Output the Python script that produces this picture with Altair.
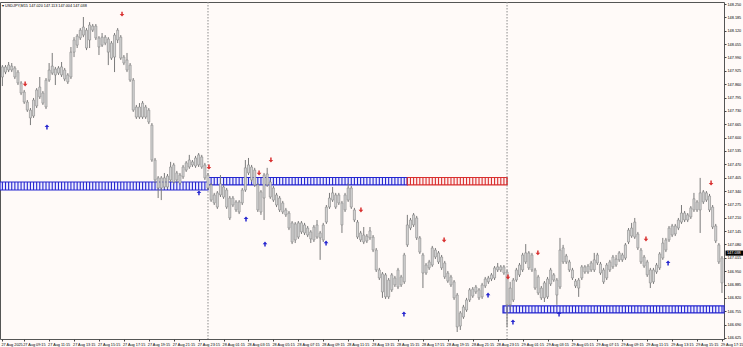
import math
import altair as alt
import pandas as pd

# ---------------- data (USDJPY, M15) ----------------
opens = [
147.895, 147.919, 147.929, 147.948, 147.939, 147.919, 147.866, 147.822, 147.773, 147.734,
147.705, 147.754, 147.798, 147.817, 147.749, 147.880, 147.914, 147.934, 147.914, 147.944,
147.929, 147.905, 147.895, 148.016, 148.050, 148.085, 148.099, 148.123, 148.075, 148.123,
148.143, 148.085, 148.050, 148.060, 148.080, 148.060, 147.992, 148.075, 148.089, 147.992,
147.978, 147.953, 147.880, 147.749, 147.700, 147.700, 147.749, 147.734, 147.661, 147.491,
147.404, 147.355, 147.404, 147.360, 147.394, 147.467, 147.394, 147.418, 147.409, 147.442,
147.457, 147.482, 147.462, 147.467, 147.506, 147.467, 147.418, 147.370, 147.321, 147.331,
147.321, 147.360, 147.345, 147.306, 147.272, 147.287, 147.287, 147.282, 147.345, 147.428,
147.457, 147.442, 147.370, 147.336, 147.306, 147.370, 147.384, 147.355, 147.321, 147.306,
147.282, 147.248, 147.233, 147.185, 147.102, 147.116, 147.141, 147.175, 147.160, 147.141,
147.102, 147.116, 147.136, 147.102, 147.189, 147.262, 147.296, 147.321, 147.282, 147.282,
147.248, 147.296, 147.355, 147.248, 147.189, 147.136, 147.126, 147.097, 147.112, 147.116,
147.053, 146.956, 146.937, 146.932, 146.825, 146.859, 146.917, 146.873, 146.922, 146.898,
147.078, 147.160, 147.175, 147.209, 147.112, 147.029, 146.980, 146.966, 146.980, 147.053,
147.039, 147.019, 146.990, 146.941, 146.922, 146.898, 146.834, 146.683, 146.727, 146.761,
146.810, 146.829, 146.849, 146.859, 146.825, 146.878, 146.898, 146.912, 146.917, 146.956,
146.971, 146.971, 146.946, 146.786, 146.810, 146.907, 146.932, 146.956, 146.995, 147.039,
146.956, 146.956, 146.922, 146.868, 146.820, 146.912, 146.888, 146.932, 146.907, 146.873,
146.995, 147.024, 146.995, 146.956, 146.902, 146.868, 146.917, 146.946, 146.975, 146.956,
146.956, 146.990, 146.985, 146.956, 146.917, 146.956, 146.971, 147.009, 147.005, 147.029,
147.014, 147.092, 147.121, 147.116, 147.131, 147.053, 147.019, 146.995, 146.956, 146.898,
146.946, 146.966, 147.014, 147.053, 147.102, 147.126, 147.170, 147.160, 147.189, 147.233,
147.199, 147.214, 147.248, 147.287, 147.248, 147.287, 147.331, 147.316, 147.262, 147.170,
147.078, 147.014]

highs = [
147.953, 147.953, 147.968, 147.963, 147.948, 147.929, 147.875, 147.832, 147.783, 147.744,
147.793, 147.841, 147.895, 147.827, 147.890, 147.963, 148.012, 147.944, 147.948, 147.968,
147.939, 147.914, 148.041, 148.089, 148.104, 148.133, 148.187, 148.133, 148.162, 148.153,
148.153, 148.094, 148.109, 148.099, 148.089, 148.070, 148.109, 148.133, 148.099, 148.002,
148.012, 147.963, 147.890, 147.759, 147.768, 147.778, 147.759, 147.744, 147.671, 147.501,
147.413, 147.413, 147.428, 147.423, 147.482, 147.477, 147.438, 147.428, 147.467, 147.486,
147.516, 147.491, 147.511, 147.525, 147.516, 147.477, 147.428, 147.379, 147.331, 147.340,
147.418, 147.370, 147.355, 147.316, 147.316, 147.296, 147.296, 147.355, 147.491, 147.501,
147.467, 147.453, 147.379, 147.345, 147.428, 147.453, 147.394, 147.365, 147.331, 147.316,
147.292, 147.258, 147.243, 147.194, 147.189, 147.194, 147.194, 147.185, 147.170, 147.150,
147.175, 147.199, 147.146, 147.185, 147.272, 147.331, 147.360, 147.331, 147.331, 147.292,
147.331, 147.379, 147.365, 147.258, 147.199, 147.146, 147.165, 147.131, 147.165, 147.126,
147.063, 146.966, 146.946, 146.941, 146.917, 146.941, 146.927, 146.966, 146.932, 147.039,
147.224, 147.209, 147.233, 147.219, 147.121, 147.039, 146.990, 147.005, 147.073, 147.063,
147.048, 147.029, 147.000, 146.951, 146.932, 146.907, 146.844, 146.756, 146.786, 146.820,
146.868, 146.873, 146.883, 146.868, 146.893, 146.922, 146.927, 146.941, 146.975, 146.990,
146.980, 146.980, 146.956, 146.898, 146.917, 146.966, 146.990, 147.039, 147.082, 147.048,
147.039, 146.966, 146.932, 146.878, 146.902, 146.922, 146.966, 146.941, 146.917, 147.112,
147.078, 147.034, 147.005, 146.966, 146.912, 146.917, 146.980, 146.980, 146.985, 147.000,
147.039, 147.039, 146.995, 146.966, 146.990, 147.005, 147.029, 147.029, 147.048, 147.039,
147.087, 147.160, 147.185, 147.209, 147.141, 147.063, 147.029, 147.005, 146.966, 146.966,
146.990, 147.043, 147.112, 147.112, 147.170, 147.180, 147.180, 147.209, 147.272, 147.243,
147.233, 147.267, 147.331, 147.296, 147.404, 147.345, 147.340, 147.326, 147.272, 147.180,
147.087, 147.024]

lows = [
147.851, 147.909, 147.919, 147.919, 147.885, 147.856, 147.807, 147.764, 147.725, 147.661,
147.696, 147.744, 147.788, 147.759, 147.739, 147.871, 147.905, 147.856, 147.905, 147.895,
147.875, 147.861, 147.885, 147.992, 148.036, 148.075, 148.089, 148.026, 148.036, 148.114,
148.075, 148.002, 148.041, 148.050, 147.953, 147.978, 147.919, 148.060, 147.978, 147.953,
147.919, 147.871, 147.725, 147.691, 147.691, 147.691, 147.691, 147.666, 147.482, 147.379,
147.306, 147.296, 147.350, 147.350, 147.384, 147.375, 147.384, 147.370, 147.399, 147.433,
147.448, 147.457, 147.453, 147.457, 147.448, 147.394, 147.345, 147.287, 147.272, 147.253,
147.311, 147.302, 147.253, 147.199, 147.262, 147.238, 147.228, 147.272, 147.336, 147.418,
147.384, 147.360, 147.238, 147.224, 147.199, 147.360, 147.302, 147.287, 147.262, 147.238,
147.228, 147.214, 147.150, 147.082, 147.087, 147.107, 147.131, 147.126, 147.116, 147.087,
147.092, 147.107, 147.005, 147.092, 147.180, 147.253, 147.287, 147.253, 147.272, 147.136,
147.238, 147.287, 147.253, 147.189, 147.107, 147.092, 147.082, 147.087, 147.102, 147.043,
146.946, 146.907, 146.820, 146.815, 146.815, 146.849, 146.873, 146.863, 146.873, 146.888,
147.068, 147.150, 147.165, 147.102, 147.034, 146.868, 146.932, 146.956, 146.971, 147.009,
146.985, 146.956, 146.912, 146.893, 146.873, 146.810, 146.654, 146.664, 146.718, 146.752,
146.800, 146.820, 146.839, 146.810, 146.815, 146.868, 146.888, 146.902, 146.907, 146.946,
146.946, 146.932, 146.679, 146.761, 146.800, 146.898, 146.922, 146.946, 146.985, 146.956,
146.946, 146.859, 146.834, 146.810, 146.800, 146.815, 146.878, 146.898, 146.786, 146.863,
146.985, 146.985, 146.946, 146.907, 146.868, 146.825, 146.907, 146.937, 146.937, 146.946,
146.946, 146.980, 146.932, 146.888, 146.907, 146.946, 146.961, 146.971, 146.995, 146.995,
147.005, 147.082, 147.112, 147.107, 147.053, 146.985, 146.966, 146.922, 146.868, 146.888,
146.937, 146.956, 147.005, 147.043, 147.092, 147.116, 147.121, 147.150, 147.180, 147.189,
147.189, 147.204, 147.238, 147.238, 147.136, 147.277, 147.287, 147.238, 147.155, 147.087,
146.985, 146.844]

closes = [
147.944, 147.944, 147.953, 147.929, 147.895, 147.866, 147.817, 147.773, 147.734, 147.696,
147.783, 147.832, 147.846, 147.768, 147.880, 147.929, 147.948, 147.905, 147.939, 147.905,
147.885, 147.871, 148.016, 148.075, 148.094, 148.123, 148.138, 148.036, 148.148, 148.143,
148.085, 148.041, 148.089, 148.089, 148.016, 147.987, 148.099, 148.123, 147.987, 147.963,
147.929, 147.880, 147.734, 147.700, 147.749, 147.768, 147.700, 147.676, 147.491, 147.394,
147.355, 147.404, 147.360, 147.413, 147.457, 147.384, 147.428, 147.379, 147.457, 147.477,
147.491, 147.467, 147.501, 147.516, 147.457, 147.404, 147.355, 147.296, 147.282, 147.262,
147.375, 147.311, 147.262, 147.209, 147.306, 147.248, 147.238, 147.345, 147.453, 147.467,
147.394, 147.370, 147.248, 147.238, 147.418, 147.423, 147.311, 147.296, 147.272, 147.248,
147.238, 147.224, 147.160, 147.092, 147.180, 147.185, 147.185, 147.136, 147.126, 147.107,
147.165, 147.175, 147.112, 147.175, 147.262, 147.306, 147.331, 147.262, 147.321, 147.175,
147.321, 147.355, 147.262, 147.199, 147.116, 147.102, 147.092, 147.121, 147.146, 147.053,
146.956, 146.917, 146.849, 146.825, 146.907, 146.932, 146.883, 146.956, 146.883, 147.029,
147.175, 147.199, 147.224, 147.112, 147.043, 146.941, 146.941, 146.995, 147.063, 147.019,
146.995, 146.966, 146.922, 146.902, 146.883, 146.820, 146.679, 146.747, 146.776, 146.810,
146.859, 146.863, 146.873, 146.820, 146.883, 146.912, 146.917, 146.932, 146.966, 146.971,
146.956, 146.941, 146.786, 146.868, 146.907, 146.956, 146.980, 147.029, 147.039, 146.966,
147.029, 146.868, 146.844, 146.820, 146.893, 146.825, 146.956, 146.907, 146.834, 147.053,
147.063, 146.995, 146.956, 146.917, 146.878, 146.907, 146.971, 146.971, 146.946, 146.990,
147.005, 147.029, 146.941, 146.898, 146.980, 146.995, 147.019, 146.980, 147.039, 147.005,
147.078, 147.150, 147.160, 147.189, 147.063, 146.995, 146.975, 146.932, 146.893, 146.956,
146.980, 147.034, 147.087, 147.102, 147.160, 147.170, 147.131, 147.199, 147.233, 147.199,
147.224, 147.258, 147.302, 147.248, 147.331, 147.336, 147.296, 147.248, 147.165, 147.097,
146.995, 146.893]

# x-axis labels (bar number -> text)
label_bars = [0, 7, 15, 23, 31, 39, 47, 55, 63, 71, 79, 87, 95, 103, 111, 119,
              127, 135, 143, 151, 159, 167, 175, 183, 191, 199, 207, 215, 223, 231]
label_texts = ["27 Aug 2025", "27 Aug 09:15", "27 Aug 11:15", "27 Aug 13:15",
               "27 Aug 15:15", "27 Aug 17:15", "27 Aug 19:15", "27 Aug 21:15",
               "27 Aug 23:15", "28 Aug 01:15", "28 Aug 03:15", "28 Aug 05:15",
               "28 Aug 07:15", "28 Aug 09:15", "28 Aug 11:15", "28 Aug 13:15",
               "28 Aug 15:15", "28 Aug 17:15", "28 Aug 19:15", "28 Aug 21:15",
               "28 Aug 23:15", "29 Aug 01:15", "29 Aug 03:15", "29 Aug 05:15",
               "29 Aug 07:15", "29 Aug 09:15", "29 Aug 11:15", "29 Aug 13:15",
               "29 Aug 15:15", "29 Aug 17:15"]

price_ticks = [146.625, 146.690, 146.755, 146.820, 146.885, 146.950, 147.015,
               147.080, 147.145, 147.210, 147.275, 147.340, 147.405, 147.470,
               147.535, 147.600, 147.665, 147.730, 147.795, 147.860, 147.925,
               147.990, 148.055, 148.120, 148.185, 148.250]

# day separators (first bar of 28 Aug and 29 Aug)
day_bars = [66, 162]

# supply / demand zones
zone_start = [-0.77, 66, 130, 160.7]
zone_end = [66, 130, 162, 231.65]
zone_low = [147.345, 147.370, 147.370, 146.747]
zone_high = [147.384, 147.406, 147.406, 146.781]
zone_kind = ["buy", "buy", "sell", "buy"]

# signal arrows
sell_bars = [38.4, 7.3, 66.3, 82.4, 86.2, 115.1, 141.8, 162.3, 171.9, 206.6, 227.5]
sell_prices = [148.201, 147.861, 147.457, 147.428, 147.491, 147.248, 147.102,
               146.922, 147.039, 147.107, 147.379]
buy_bars = [14.3, 63.1, 78.2, 84.3, 103.9, 128.9, 155.9, 163.9, 178.7, 213.7]
buy_prices = [147.652, 147.331, 147.204, 147.082, 147.087, 146.742, 146.834,
              146.703, 146.742, 146.990]

header_text = "\u25be USDJPY,M15  147.020 147.113 147.004 147.038"
last_price = 147.038

# ---------------- build ----------------
n = min(len(opens), len(highs), len(lows), len(closes))
bars = pd.DataFrame({
    "i": list(range(n)),
    "o": opens[:n], "h": highs[:n], "l": lows[:n], "c": closes[:n],
})
bars["blo"] = bars[["o", "c"]].min(axis=1)
bars["bhi"] = bars[["o", "c"]].max(axis=1)

X0, X1 = -0.77, 231.65
Y0, Y1 = 146.620, 148.260
xs = alt.Scale(domain=[X0, X1], nice=False, zero=False)
ys = alt.Scale(domain=[Y0, Y1], nice=False, zero=False)

BLUE = "#2626cf"
RED = "#d93030"
FONT = "Liberation Sans"
FS = 3.8

idx_js = "[" + ",".join(str(v) for v in label_bars) + "]"
txt_js = "[" + ",".join("'" + t + "'" for t in label_texts) + "]"
label_expr = f"{txt_js}[indexof({idx_js}, datum.value)]"

X_AXIS = alt.Axis(values=label_bars, labelExpr=label_expr, orient="bottom",
                  labelAlign="left", labelBaseline="top", labelPadding=1,
                  labelOffset=-1.5,
                  tickSize=2, tickColor="#444444", labelFontSize=FS,
                  labelFont=FONT, labelColor="black", domain=False, grid=False,
                  title=None, labelFlush=False, labelOverlap=False,
                  labelBound=False)
Y_AXIS = alt.Axis(values=price_ticks, format=".3f", orient="right",
                  labelAlign="left", labelPadding=1, tickSize=2,
                  tickColor="#444444", labelFontSize=FS, labelFont=FONT,
                  labelColor="black", domain=False, grid=False, title=None,
                  labelFlush=False, labelOverlap=False, labelBound=False)


def X(field):
    return alt.X(field, scale=xs, axis=X_AXIS)


def Y(field):
    return alt.Y(field, scale=ys, axis=Y_AXIS)


zones = pd.DataFrame({"s": zone_start, "e": zone_end, "lo": zone_low,
                      "hi": zone_high, "kind": zone_kind})
zones["line"] = zones["kind"].map({"buy": BLUE, "sell": RED})
zones["fill"] = zones["kind"].map({"buy": "#eeeeff", "sell": "#ffeeee"})

stripe_rows = []
for s, e, lo, hi, kind in zip(zone_start, zone_end, zone_low, zone_high, zone_kind):
    for k in range(math.ceil(s), math.floor(e) + 1):
        stripe_rows.append({"s": k, "lo": lo, "hi": hi,
                            "line": BLUE if kind == "buy" else RED})
stripes = pd.DataFrame(stripe_rows)

zone_rect = alt.Chart(zones).mark_rect(strokeWidth=1.2).encode(
    x=X("s:Q"), x2="e:Q",
    y=Y("lo:Q"), y2="hi:Q",
    fill=alt.Fill("fill:N", scale=None),
    stroke=alt.Stroke("line:N", scale=None),
)

zone_stripes = alt.Chart(stripes).mark_rule(strokeWidth=1.1).encode(
    x=X("s:Q"),
    y=Y("lo:Q"), y2="hi:Q",
    color=alt.Color("line:N", scale=None),
)

separators = alt.Chart(pd.DataFrame({"s": day_bars})).mark_rule(
    color="#8c8c8c", strokeWidth=1, strokeDash=[1.5, 1.5]
).encode(
    x=X("s:Q"),
    y=alt.value(0), y2=alt.value(337),
)

wicks = alt.Chart(bars).transform_calculate(s="datum.i").mark_rule(
    color="#7a7a7a", strokeWidth=1
).encode(
    x=X("s:Q"),
    y=Y("l:Q"), y2="h:Q",
)

bodies = alt.Chart(bars).transform_calculate(
    s="datum.i - 0.33", xr="datum.i + 0.33"
).mark_rect(fill="#d6d6d6", stroke="#858585", strokeWidth=0.6).encode(
    x=X("s:Q"), x2="xr:Q",
    y=Y("blo:Q"), y2="bhi:Q",
)

down_arrow = "M-0.3,-1L0.3,-1L0.3,-0.05L0.95,-0.05L0,1L-0.95,-0.05L-0.3,-0.05Z"
up_arrow = "M-0.3,1L0.3,1L0.3,0.05L0.95,0.05L0,-1L-0.95,0.05L-0.3,0.05Z"

sells = alt.Chart(pd.DataFrame({"s": sell_bars, "lo": sell_prices})).mark_point(
    shape=down_arrow, filled=True, size=24, color=RED, opacity=1, strokeWidth=0
).encode(x=X("s:Q"), y=Y("lo:Q"))

buys = alt.Chart(pd.DataFrame({"s": buy_bars, "lo": buy_prices})).mark_point(
    shape=up_arrow, filled=True, size=24, color=BLUE, opacity=1, strokeWidth=0
).encode(x=X("s:Q"), y=Y("lo:Q"))

header = alt.Chart(pd.DataFrame({"t": [header_text]})).mark_text(
    align="left", baseline="middle", fontSize=FS, font=FONT, color="black"
).encode(x=alt.value(2), y=alt.value(3.5), text="t:N")

lp = pd.DataFrame({"lo": [last_price], "t": [f"{last_price:.3f}"]})
price_box = alt.Chart(lp).transform_calculate(
    p1="datum.lo + 0.0125", p0="datum.lo - 0.0125"
).mark_rect(color="black").encode(
    x=alt.value(725.5), x2=alt.value(745),
    y=Y("p0:Q"), y2="p1:Q",
)
price_txt = alt.Chart(lp).mark_text(
    align="left", baseline="middle", fontSize=FS, font=FONT, color="white"
).encode(x=alt.value(727), y=Y("lo:Q"), text="t:N")

chart = alt.layer(
    zone_rect, zone_stripes, separators, wicks, bodies, sells, buys,
    header, price_box, price_txt
).properties(
    width=724, height=337,
    autosize=alt.AutoSizeParams(type="none"),
    padding={"left": 0, "top": 2, "right": 19, "bottom": 8},
    background="#fffaf8",
).configure_view(
    stroke="#555555", strokeWidth=1
)

chart.save("out.html", embed_options={"renderer": "svg", "actions": False})
